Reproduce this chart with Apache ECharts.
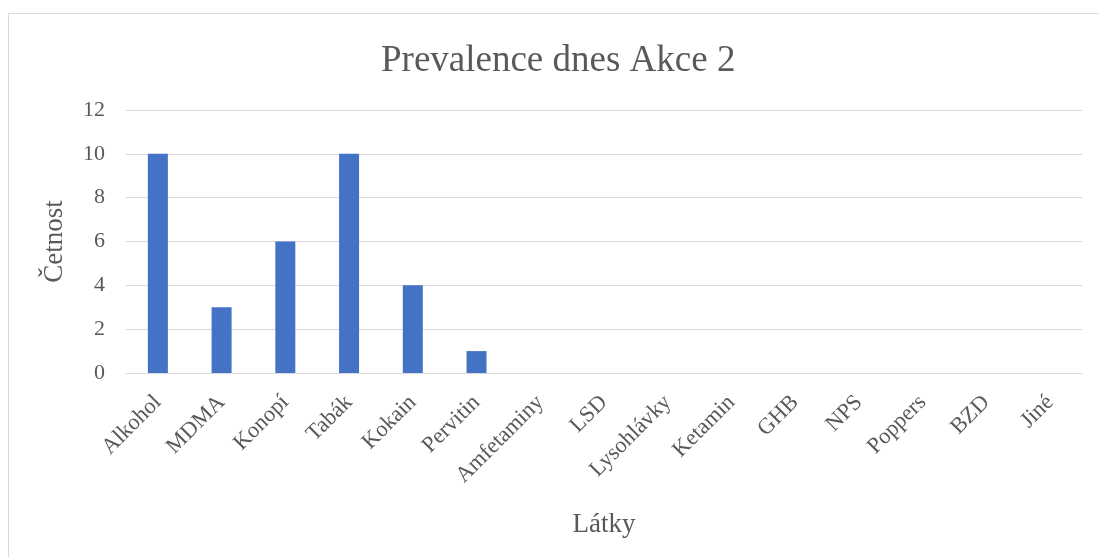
<!DOCTYPE html>
<html><head><meta charset="utf-8">
<script src="https://cdn.jsdelivr.net/npm/echarts@6/dist/echarts.min.js"></script>
<style>html,body{margin:0;padding:0;background:#fff}#c{width:1099px;height:557px}</style>
</head><body><div id="c"></div>
<script>
const categories = ['Alkohol','MDMA','Konopí','Tabák','Kokain','Pervitin','Amfetaminy','LSD','Lysohlávky','Ketamin','GHB','NPS','Poppers','BZD','Jiné'];
const values = [10,3,6,10,4,1,0,0,0,0,0,0,0,0,0];
const titleText = 'Prevalence dnes Akce 2';
const xName = 'Látky';
const yName = 'Četnost';
const font = '"Liberation Serif", "Times New Roman", serif';
const chart = echarts.init(document.getElementById('c'), null, {renderer:'canvas'});
chart.setOption({
  animation:false,
  textStyle:{fontFamily:font},
  graphic:[{type:'rect',shape:{x:8.5,y:13.5,width:1200,height:600},style:{fill:null,stroke:'#d9d9d9',lineWidth:1},silent:true}],
  title:{text:titleText,left:376,top:38,textStyle:{fontFamily:font,fontSize:37,fontWeight:'normal',color:'#595959'}},
  grid:{left:126,right:17,top:110,bottom:184,containLabel:false},
  xAxis:{type:'category',data:categories,name:xName,nameLocation:'middle',nameGap:138,
    nameTextStyle:{fontFamily:font,fontSize:27,color:'#595959'},
    axisLine:{lineStyle:{color:'#d9d9d9',width:1}},axisTick:{show:false},
    axisLabel:{rotate:45,fontFamily:font,fontSize:22.5,color:'#595959',margin:26,interval:0}},
  yAxis:{type:'value',min:0,max:12,interval:2,name:yName,nameLocation:'middle',nameGap:58,
    nameTextStyle:{fontFamily:font,fontSize:27,color:'#595959'},
    axisLine:{show:false},axisTick:{show:false},
    axisLabel:{fontFamily:font,fontSize:22,color:'#595959',margin:21},
    splitLine:{lineStyle:{color:'#d9d9d9',width:1}}},
  series:[{type:'bar',data:values,barWidth:20,itemStyle:{color:'#4472c4'}}]
});
</script></body></html>
